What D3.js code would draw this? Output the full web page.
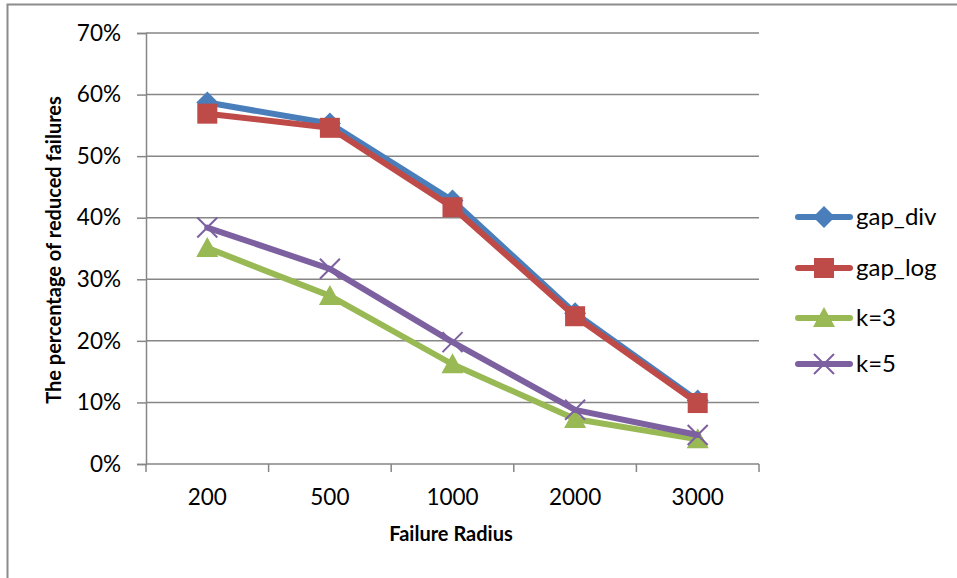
<!DOCTYPE html>
<html><head><meta charset="utf-8">
<script src="https://cdn.jsdelivr.net/npm/d3@7"></script>
<style>body{margin:0;background:#fff}svg{display:block}</style>
</head><body>
<svg id="c" width="957" height="578"></svg>
<script>
const categories = ["200","500","1000","2000","3000"];
const seriesNames = ["gap_div","gap_log","k=3","k=5"];
const gapDiv = [0.587, 0.553, 0.428, 0.245, 0.103];
const gapLog = [0.569, 0.546, 0.417, 0.240, 0.099];
const k3 = [0.351, 0.273, 0.162, 0.073, 0.040];
const k5 = [0.384, 0.317, 0.198, 0.088, 0.047];
const yTicks = [0,0.1,0.2,0.3,0.4,0.5,0.6,0.7];
const colors = ["#4a7ebb","#be4b48","#98b954","#7d60a0"];
const markers = ["diamond","square","triangle","x"];
const allSeries = [gapDiv, gapLog, k3, k5];

const svg = d3.select("#c");
const font = "Lato, 'Open Sans', sans-serif";
svg.append("path").attr("d","M7.5,578 V4.5 H957").attr("fill","none").attr("stroke","#8c8c8c").attr("stroke-width",2);

const L=146, R=759, T=33, B=464;
const x = d3.scaleBand().domain(categories).range([L,R]);
const y = d3.scaleLinear().domain([0,0.7]).range([B,T]);

svg.append("g").selectAll("line").data(yTicks.filter(d=>d>0)).join("line")
  .attr("x1",L).attr("x2",R).attr("y1",d=>y(d)).attr("y2",d=>y(d))
  .attr("stroke","#868686").attr("stroke-width",1.5);

const ya = svg.append("g").attr("transform",`translate(${L},0)`)
  .call(d3.axisLeft(y).tickValues(yTicks).tickFormat(d3.format(".0%")).tickSize(9).tickPadding(16));
ya.select(".domain").attr("stroke","#868686").attr("stroke-width",1.5);
ya.selectAll(".tick line").attr("stroke","#868686").attr("stroke-width",1.5);
ya.selectAll("text").attr("font-family",font).attr("font-size",22.5).attr("fill","#000");

const xa = svg.append("g").attr("transform",`translate(0,${B})`)
  .call(d3.axisBottom(x).tickSize(0).tickPadding(25));
xa.select(".domain").attr("stroke","#868686").attr("stroke-width",1.5).attr("d",`M${L},0H${R}`);
xa.selectAll("text").attr("font-family",font).attr("font-size",22.5).attr("fill","#000");
const bounds = [L].concat(categories.map(c=>x(c)+x.bandwidth()));
svg.append("g").selectAll("line").data(bounds).join("line")
  .attr("x1",d=>d).attr("x2",d=>d).attr("y1",B).attr("y2",B+8)
  .attr("stroke","#868686").attr("stroke-width",1.5);

svg.append("text").attr("x",451).attr("y",541).attr("text-anchor","middle")
  .attr("font-family",font).attr("font-weight","bold").attr("font-size",20).text("Failure Radius");
svg.append("text").attr("transform","translate(61,250) rotate(-90)").attr("text-anchor","middle")
  .attr("font-family",font).attr("font-weight","bold").attr("font-size",20).text("The percentage of reduced failures");

const cx = c => x(c)+x.bandwidth()/2;
function drawMarker(g, type, px, py, color){
  if(type==="diamond"){
    g.append("path").attr("d",`M${px},${py-11}L${px+11},${py}L${px},${py+11}L${px-11},${py}Z`).attr("fill",color);
  } else if(type==="square"){
    g.append("rect").attr("x",px-10).attr("y",py-10).attr("width",20).attr("height",20).attr("fill",color);
  } else if(type==="triangle"){
    g.append("path").attr("d",`M${px},${py-11}L${px+11},${py+9}L${px-11},${py+9}Z`).attr("fill",color);
  } else {
    g.append("path").attr("d",`M${px-10},${py-10}L${px+10},${py+10}M${px-10},${py+10}L${px+10},${py-10}`)
      .attr("stroke",color).attr("stroke-width",2);
  }
}
const line = d3.line().x((d,i)=>cx(categories[i])).y(d=>y(d));
allSeries.forEach((s,si)=>{
  const g = svg.append("g");
  g.append("path").attr("d",line(s)).attr("fill","none").attr("stroke",colors[si])
    .attr("stroke-width",6).attr("stroke-linejoin","round").attr("stroke-linecap","round");
  s.forEach((v,i)=>drawMarker(g, markers[si], cx(categories[i]), y(v), colors[si]));
});

const legY = [217,268,318,364];
seriesNames.forEach((n,i)=>{
  const g = svg.append("g");
  g.append("line").attr("x1",798).attr("x2",850).attr("y1",legY[i]).attr("y2",legY[i])
    .attr("stroke",colors[i]).attr("stroke-width",6).attr("stroke-linecap","round");
  drawMarker(g, markers[i], 824, legY[i], colors[i]);
  g.append("text").attr("x",856).attr("y",legY[i]).attr("dy","0.35em")
    .attr("font-family",font).attr("font-size",24).text(n);
});
</script>
</body></html>
